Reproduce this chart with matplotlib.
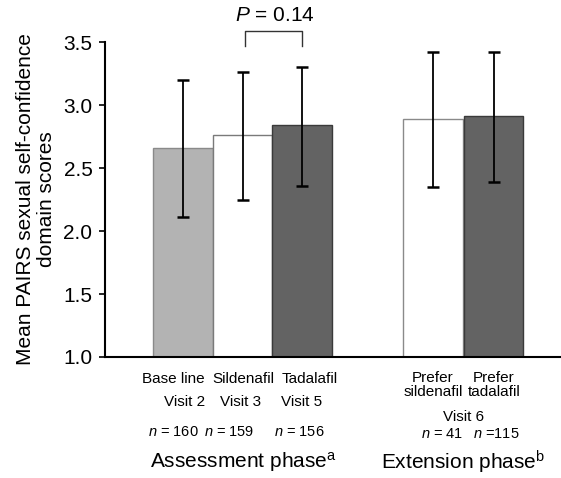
import numpy as np
import matplotlib
matplotlib.use('Agg')
import matplotlib.pyplot as plt
import matplotlib.transforms as mtransforms

plt.rcParams['font.family'] = ['Liberation Sans', 'DejaVu Sans']
plt.rcParams['mathtext.fontset'] = 'custom'
plt.rcParams['mathtext.rm'] = 'Liberation Sans'
plt.rcParams['mathtext.it'] = 'Liberation Sans:italic'

# data
groups = ['Base line', 'Sildenafil', 'Tadalafil', 'Prefer\nsildenafil', 'Prefer\ntadalafil']
visits = ['Visit 2', 'Visit 3', 'Visit 5']
n_assess = [160, 159, 156]
n_ext = [41, 115]
means = [2.66, 2.76, 2.84, 2.89, 2.91]
err_low = [0.55, 0.51, 0.48, 0.54, 0.52]
err_high = [0.54, 0.50, 0.46, 0.53, 0.51]
p_text = '$P$ = 0.14'

x = np.array([0, 1, 2, 4.2, 5.22])
face = ['#b3b3b3', 'white', '#636363', 'white', '#636363']
edge = ['#8a8a8a', '#7a7a7a', '#3a3a3a', '#8a8a8a', '#3a3a3a']

W, H = 561, 478
fig = plt.figure(figsize=(W / 100, H / 100), dpi=100)
ax = fig.add_axes([105 / W, 1 - 357 / H, (W - 105) / W, (357 - 42) / H])

ax.bar(x, means, width=1.0, color=face, edgecolor=edge, linewidth=1.0)
ax.errorbar(x, means, yerr=[err_low, err_high], fmt='none', ecolor='black',
            elinewidth=1.3, capsize=4, capthick=1.8)

ax.set_ylim(1.0, 3.5)
ax.set_xlim(-1.31, 6.35)
ax.set_yticks([1.0, 1.5, 2.0, 2.5, 3.0, 3.5])
ax.set_yticklabels(['1.0', '1.5', '2.0', '2.5', '3.0', '3.5'], fontsize=15)
ax.set_xticks([])
ax.tick_params(axis='y', direction='out', length=4, width=1.2, pad=5)
for s in ['top', 'right']:
    ax.spines[s].set_visible(False)
ax.spines['left'].set_linewidth(1.5)
ax.spines['bottom'].set_linewidth(1.5)

ax.set_ylabel('Mean PAIRS sexual self-confidence\ndomain scores', fontsize=15,
              labelpad=5, linespacing=1.15)

# significance bracket
ax.plot([1.05, 1.05, 2.0, 2.0], [3.47, 3.59, 3.59, 3.47], color='#333333',
        lw=1.0, clip_on=False)
ax.text(1.55, 3.635, p_text, ha='center', va='bottom', fontsize=15)

# labels beneath the axis
tr = mtransforms.blended_transform_factory(ax.transData, fig.transFigure)

def fy(py):
    return 1 - py / H

offs = [-0.17, 0.02, 0.12]
for i in range(3):
    ax.text(x[i] + offs[i], fy(379), groups[i], transform=tr, ha='center',
            va='center', fontsize=11)
    ax.text(x[i] + [0.02, -0.04, 0.0][i], fy(402), visits[i], transform=tr,
            ha='center', va='center', fontsize=11)
    ax.text(x[i] + [-0.16, -0.22, -0.05][i], fy(432), '$n$ = %d' % n_assess[i],
            transform=tr, ha='center', va='center', fontsize=10.5)
ax.text(1.02, fy(462), 'Assessment phase$^{\\mathrm{a}}$', transform=tr,
        ha='center', va='center', fontsize=15)

for j in range(2):
    ax.text(x[3 + j], fy(385), groups[3 + j], transform=tr, ha='center',
            va='center', fontsize=11, linespacing=0.95)
ax.text(x[3] + 0.15, fy(434), '$n$ = %d' % n_ext[0], transform=tr,
        ha='center', va='center', fontsize=10.5)
ax.text(x[4] + 0.05, fy(434), '$n$ =%d' % n_ext[1], transform=tr,
        ha='center', va='center', fontsize=10.5)
ax.text((x[3] + x[4]) / 2, fy(417), 'Visit 6', transform=tr, ha='center',
        va='center', fontsize=11)
ax.text((x[3] + x[4]) / 2, fy(462), 'Extension phase$^{\\mathrm{b}}$',
        transform=tr, ha='center', va='center', fontsize=15)

fig.savefig('out.png', dpi=100)
